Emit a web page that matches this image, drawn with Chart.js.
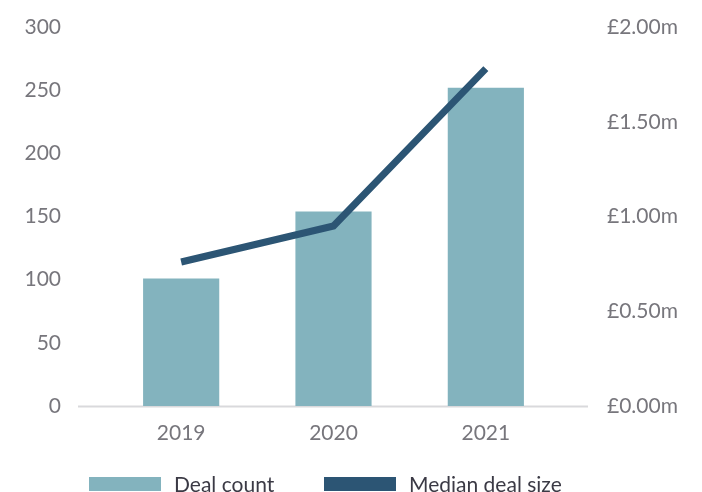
<!DOCTYPE html>
<html>
<head>
<meta charset="utf-8">
<script src="https://cdn.jsdelivr.net/npm/chart.js@4/dist/chart.umd.min.js"></script>
<style>
    html, body { margin: 0; padding: 0; background: #fff; }
    #wrap { position: relative; width: 702px; height: 492px; }
    #legend { position: absolute; left: 89px; top: 472px; display: flex; align-items: center;
              font-family: Lato, "Open Sans", sans-serif; font-size: 21px; color: #3b3a45; line-height: 24px; }
    #legend .item { display: flex; align-items: center; }
    #legend .item:first-child { width: 235px; }
    #legend .box { width: 72px; height: 14px; margin-right: 13px; }
</style>
</head>
<body>
<div id="wrap">
    <canvas id="deals-chart" width="702" height="492"></canvas>
    <div id="legend"></div>
</div>
<script>
const years = ['2019', '2020', '2021'];
const dealCount = [101, 154, 252];
const medianDealSize = [0.76, 0.95, 1.78];
const countTicks = [0, 50, 100, 150, 200, 250, 300];
const sizeTicks = [0, 0.5, 1, 1.5, 2];

const tickColor = '#77767c';
const fontFamily = 'Lato, "Open Sans", sans-serif';

// axis line runs a bit past the plot area on both sides
const baseLine = {
    id: 'baseLine',
    beforeDatasetsDraw(chart) {
        const ctx = chart.ctx;
        const y = chart.scales.y.getPixelForValue(0);
        ctx.save();
        ctx.strokeStyle = '#d9d9dc';
        ctx.lineWidth = 2;
        ctx.beginPath();
        ctx.moveTo(chart.chartArea.left - 27, y + 0.5);
        ctx.lineTo(chart.chartArea.right + 26, y + 0.5);
        ctx.stroke();
        ctx.restore();
    }
};

// fixed axis width, and no extra room above/below for the tick padding
function fitY(width) {
    return scale => {
        scale.width = width;
        scale.paddingTop = 0;
        scale.paddingBottom = 0;
    };
}

const ctx = document.getElementById('deals-chart').getContext('2d');
const dealsChart = new Chart(ctx, {
    type: 'bar',
    data: {
        labels: years,
        datasets: [{
            type: 'line',
            label: 'Median deal size',
            data: medianDealSize,
            yAxisID: 'y1',
            borderColor: '#2c5574',
            backgroundColor: '#2c5574',
            borderWidth: 7,
            pointRadius: 0,
            tension: 0,
            order: 1
        }, {
            type: 'bar',
            label: 'Deal count',
            data: dealCount,
            yAxisID: 'y',
            backgroundColor: '#83b3be',
            categoryPercentage: 1,
            barPercentage: 0.5,
            order: 2
        }]
    },
    options: {
        responsive: false,
        animation: false,
        layout: { padding: { top: 27, bottom: 36 } },
        plugins: {
            tooltip: { enabled: false },
            legend: { display: false }
        },
        scales: {
            x: {
                grid: { display: false, drawTicks: false },
                border: { display: false },
                ticks: { color: tickColor, font: { family: fontFamily, size: 21 }, padding: 15 },
                afterFit(scale) { scale.height = 50; }
            },
            y: {
                position: 'left',
                min: 0,
                max: 300,
                afterBuildTicks(scale) { scale.ticks = countTicks.map(v => ({ value: v })); },
                grid: { display: false, drawTicks: false },
                border: { display: false },
                ticks: { color: tickColor, font: { family: fontFamily, size: 21 }, padding: 44 },
                afterFit: fitY(105)
            },
            y1: {
                position: 'right',
                min: 0,
                max: 2,
                afterBuildTicks(scale) { scale.ticks = sizeTicks.map(v => ({ value: v })); },
                grid: { display: false, drawTicks: false },
                border: { display: false },
                ticks: {
                    color: tickColor,
                    font: { family: fontFamily, size: 21 },
                    padding: 45,
                    callback: v => '£' + v.toFixed(2) + 'm'
                },
                afterFit: fitY(140)
            }
        }
    },
    plugins: [baseLine]
});

// legend: bars first, then the line
const legend = document.getElementById('legend');
dealsChart.data.datasets.slice().reverse().forEach(ds => {
    const item = document.createElement('div');
    item.className = 'item';
    const box = document.createElement('span');
    box.className = 'box';
    box.style.background = ds.backgroundColor;
    const text = document.createElement('span');
    text.textContent = ds.label;
    item.appendChild(box);
    item.appendChild(text);
    legend.appendChild(item);
});
</script>
</body>
</html>
